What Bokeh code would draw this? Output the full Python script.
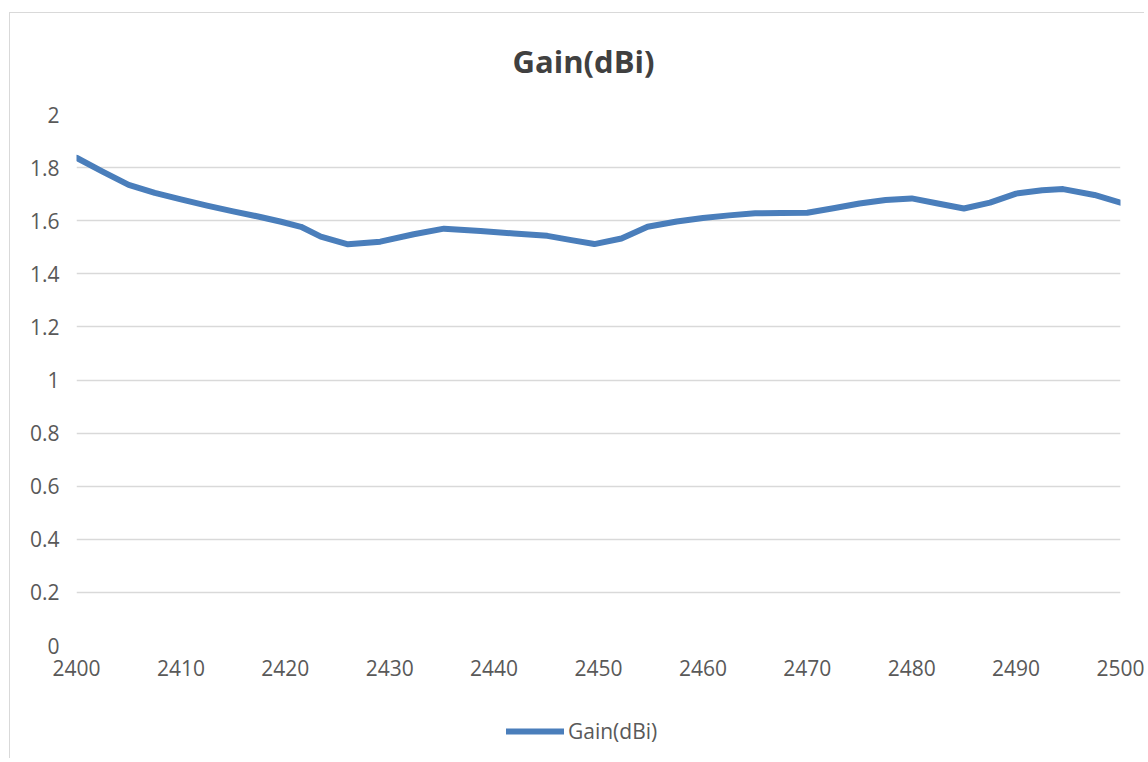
from bokeh.plotting import figure
from bokeh.models import Range1d, FixedTicker, Legend, LegendItem
from bokeh.layouts import column
from bokeh.embed import file_html
from bokeh.resources import INLINE

# ---- data ----
freq_mhz = [2400, 2402.5, 2405, 2407.5, 2410, 2412.5, 2415, 2417.5, 2419.6, 2421.5,
            2423.4, 2426.0, 2429.1, 2432.3, 2435.2, 2438.7, 2441.9, 2445.1, 2447.4, 2449.6,
            2452.2, 2454.7, 2457.5, 2460, 2462.5, 2465, 2467.5, 2470, 2472.5,
            2475, 2477.5, 2480, 2482.5, 2485, 2487.5, 2490, 2492.5, 2494.5, 2497.5, 2500]
gain_dbi = [1.837, 1.785, 1.735, 1.705, 1.680, 1.657, 1.635, 1.615, 1.596, 1.577,
            1.540, 1.511, 1.521, 1.549, 1.570, 1.561, 1.552, 1.543, 1.527, 1.512,
            1.533, 1.577, 1.597, 1.610, 1.620, 1.628, 1.629, 1.630, 1.647,
            1.665, 1.678, 1.684, 1.665, 1.646, 1.668, 1.702, 1.715, 1.719, 1.697, 1.668]
x_ticks = [2400, 2410, 2420, 2430, 2440, 2450, 2460, 2470, 2480, 2490, 2500]
y_ticks = [0, 0.2, 0.4, 0.6, 0.8, 1, 1.2, 1.4, 1.6, 1.8, 2]
y_tick_labels = ["0", "0.2", "0.4", "0.6", "0.8", "1", "1.2", "1.4", "1.6", "1.8", "2"]
title_text = "Gain(dBi)"
series_name = "Gain(dBi)"

FONT = "Open Sans"
TEXT = "#595959"
GRID = "#d9d9d9"
BLUE = "#4a7ebb"
BORDER_BG_TOP = ("linear-gradient(#d9d9d9,#d9d9d9) 9px 12px / 1px 100% no-repeat, "
                 "linear-gradient(#d9d9d9,#d9d9d9) 9px 12px / 100% 1px no-repeat, white")
BORDER_BG_BOTTOM = "linear-gradient(#d9d9d9,#d9d9d9) 9px 0px / 1px 100% no-repeat, white"

p = figure(width=1144, height=700, output_backend="svg", toolbar_location=None,
           x_range=Range1d(2400, 2500), y_range=Range1d(0, 2),
           min_border_left=76, min_border_right=24, min_border_top=114, min_border_bottom=55,
           title=title_text)
p.outline_line_color = None
p.background_fill_color = "white"
p.border_fill_alpha = 0
p.styles = {"background": BORDER_BG_TOP}

# title
p.title.align = "left"
p.title.offset = 436
p.title.standoff = 66
p.title.text_font = FONT
p.title.text_font_size = "31px"
p.title.text_font_style = "bold"
p.title.text_color = "#404040"

# axes
p.xaxis.ticker = FixedTicker(ticks=x_ticks)
p.yaxis.ticker = FixedTicker(ticks=y_ticks)
p.yaxis.major_label_overrides = {t: l for t, l in zip(y_ticks, y_tick_labels)}
for ax in (p.xaxis[0], p.yaxis[0]):
    ax.axis_line_color = None
    ax.major_tick_line_color = None
    ax.minor_tick_line_color = None
    ax.major_tick_out = 0
    ax.major_tick_in = 0
    ax.major_label_text_font = FONT
    ax.major_label_text_font_size = "21px"
    ax.major_label_text_color = TEXT
p.yaxis.major_label_standoff = 17
p.xaxis.major_label_standoff = 14

p.xgrid.grid_line_color = None
p.ygrid.grid_line_color = GRID
p.ygrid.grid_line_width = 1.5

line_style = dict(line_color=BLUE, line_width=6, line_join="round", line_cap="round")
r = p.line(freq_mhz, gain_dbi, **line_style)

# legend strip under the chart (a small figure holding only the legend;
# its line renderer uses the same data but lies outside this strip's ranges)
lg = figure(width=1144, height=58, output_backend="svg", toolbar_location=None,
            x_axis_location=None, y_axis_location=None,
            min_border_left=0, min_border_right=0, min_border_top=0, min_border_bottom=0,
            x_range=Range1d(0, 1), y_range=Range1d(0, 1))
lg.outline_line_color = None
lg.grid.grid_line_color = None
lg.background_fill_alpha = 0
lg.border_fill_alpha = 0
lg.styles = {"background": BORDER_BG_BOTTOM}
lr = lg.line(freq_mhz, gain_dbi, **line_style)
legend = Legend(items=[LegendItem(label=series_name, renderers=[lr])],
                location=(430, 13), orientation="horizontal",
                glyph_width=58, glyph_height=20, label_height=20, label_standoff=4,
                padding=0, margin=0, spacing=0, border_line_color=None,
                background_fill_alpha=0,
                label_text_font=FONT, label_text_font_size="21px", label_text_color=TEXT)
lg.add_layout(legend)

layout = column(p, lg, spacing=0)
open("out.html", "w").write(file_html(layout, INLINE))
